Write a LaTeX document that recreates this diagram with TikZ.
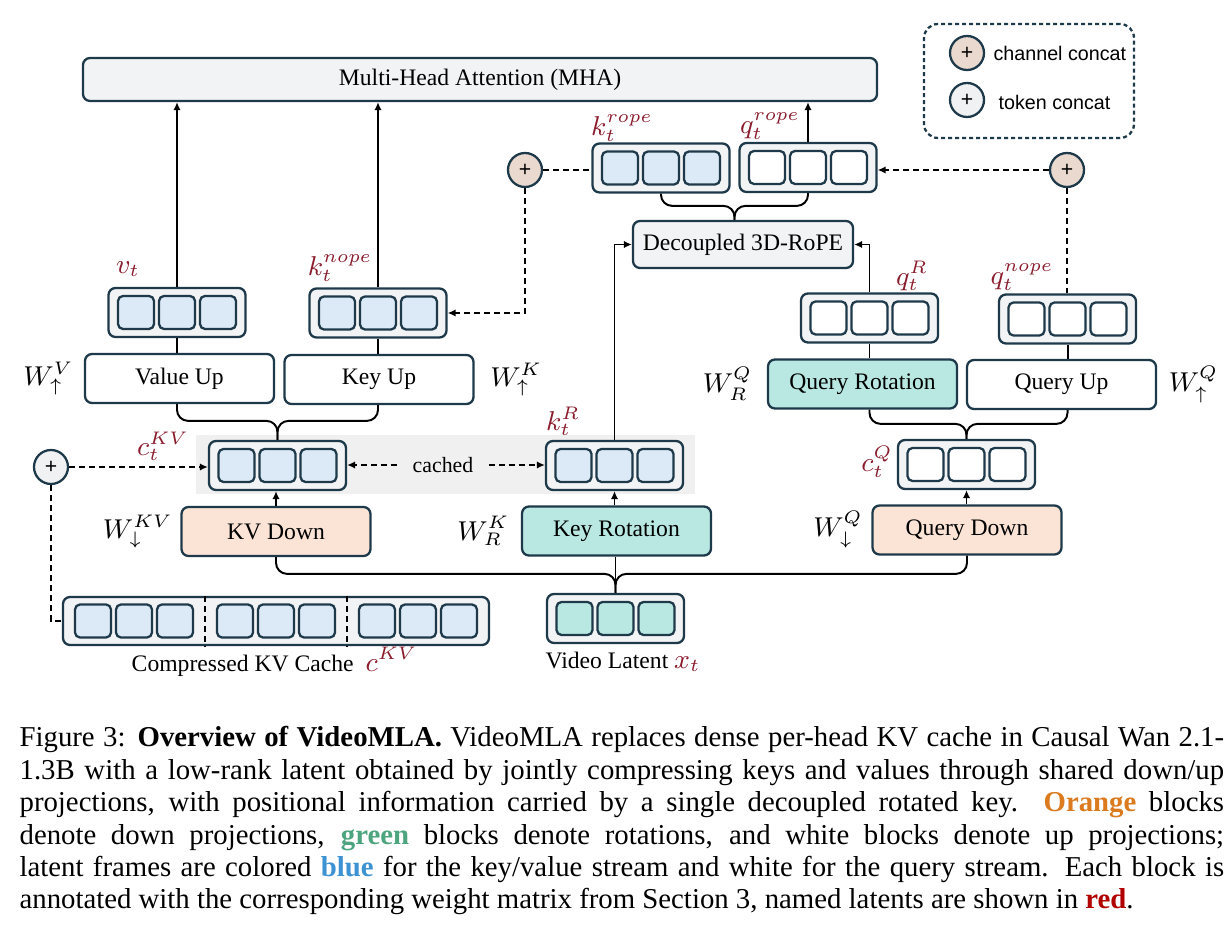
\documentclass[tikz,border=0pt]{standalone}
\usepackage{fontspec}
\setmainfont{Liberation Serif}
\newfontfamily\legfont{Liberation Sans}
\usetikzlibrary{arrows.meta,calc}

\newdimen\px \px=0.33pt
\definecolor{edge}{HTML}{1E3A4A}
\definecolor{trayfill}{HTML}{F2F3F4}
\definecolor{kvblue}{HTML}{DCE9F6}
\definecolor{rotteal}{HTML}{B8E8E1}
\definecolor{downpeach}{HTML}{FBE4D6}
\definecolor{chanbeige}{HTML}{E9D9CF}
\definecolor{tokgray}{HTML}{F0F1F3}
\definecolor{bandgray}{HTML}{F0F0F0}
\definecolor{lab}{HTML}{8A1C2C}
\definecolor{capor}{HTML}{DB7A1F}
\definecolor{capgr}{HTML}{4CA57E}
\definecolor{capbl}{HTML}{3C92D2}
\definecolor{capred}{HTML}{B00000}

\newcommand{\boxfont}{\fontsize{7.8}{9}\selectfont}
\newcommand{\labfont}{\fontsize{9}{10}\selectfont}

\tikzset{
  tray/.style={draw=edge, line width=0.75pt, fill=trayfill, rounded corners=7\px, minimum width=137\px, minimum height=49\px, inner sep=0pt},
  cell/.style={draw=edge, line width=0.75pt, rounded corners=5\px, minimum width=36\px, minimum height=33\px, inner sep=0pt},
  blk/.style={draw=edge, line width=0.75pt, rounded corners=7\px, minimum width=189\px, minimum height=49\px, inner sep=0pt, font=\boxfont},
  lab/.style={text=lab, font=\labfont, inner sep=0pt},
  wlab/.style={font=\fontsize{8.6}{10}\selectfont, inner sep=0pt},
  cat/.style={circle, draw=edge, line width=0.75pt, minimum size=34\px, inner sep=0pt, font=\legfont\fontsize{7}{8}\selectfont},
  link/.style={line width=0.65pt},
  arr/.style={link, -{Latex[length=2.6pt,width=2.4pt]}},
  dlink/.style={link, dash pattern=on 6\px off 4\px},
  darr/.style={dlink, -{Latex[length=2.6pt,width=2.4pt]}},
  brace/.style={link, rounded corners=11\px}
}

% tray of three latent cells: name, centre, cell colour
\newcommand{\tray}[3]{%
  \node[tray] (#1) at (#2) {};
  \foreach \i [count=\k] in {-41,0,41}
    \node[cell, fill=#3] (#1-\k) at ($(#1)+(\i,0)$) {};
}
% one arm of a brace: source, tip, depth
\newcommand{\brc}[3]{\draw[brace] (#1) |- ($(#2)+(0,-#3)$) -- (#2);}

\begin{document}
\begin{tikzpicture}[x=1\px, y=-1\px]
  \useasboundingbox (0,0) rectangle (1226,940);

  % cached region
  \node[fill=bandgray, minimum width=499\px, minimum height=59\px, inner sep=0pt] (band) at (445.5,464.5) {};

  % attention and legend
  \node[blk, fill=trayfill, minimum width=794\px, minimum height=43\px] (mha) at (480,79.5) {Multi-Head Attention (MHA)};
  \node[draw=edge, line width=0.75pt, dash pattern=on 4\px off 3\px, rounded corners=14\px, minimum width=210\px, minimum height=114\px] (legend) at (1029,81) {};
  \node[cat, fill=chanbeige] (legch) at (967,53) {+};
  \node[cat, fill=tokgray] (legtok) at (967,100) {+};
  \node[anchor=west, inner sep=0pt, font=\legfont\fontsize{6.5}{7}\selectfont] (legchtxt) at (993,53) {channel concat};
  \node[anchor=west, inner sep=0pt, font=\legfont\fontsize{6.5}{7}\selectfont] (legtoktxt) at (998,102) {token concat};

  % rope stage
  \tray{krope}{661,168}{kvblue}
  \tray{qrope}{808,167.5}{white}
  \node[cat, fill=chanbeige] (chl) at (525,170) {+};
  \node[cat, fill=chanbeige] (chr) at (1067,170) {+};
  \node[blk, fill=trayfill, minimum width=220\px, minimum height=47\px] (rope) at (743,244.5) {Decoupled 3D-RoPE};
  \node[lab] (krope-lab) at (622,128) {$k_t^{rope}$};
  \node[lab] (qrope-lab) at (770,126) {$q_t^{rope}$};

  % up projections
  \tray{vt}{177,312.5}{kvblue}
  \tray{knope}{378,313}{kvblue}
  \tray{qr}{869.5,318}{white}
  \tray{qnope}{1067.5,319}{white}
  \node[lab] (vt-lab) at (128,269) {$v_t$};
  \node[lab] (knope-lab) at (340,268) {$k_t^{nope}$};
  \node[lab] (qr-lab) at (912,276) {$q_t^{R}$};
  \node[lab] (qnope-lab) at (1022,277) {$q_t^{nope}$};
  \node[blk, fill=white] (vup) at (179.5,378.5) {Value Up};
  \node[blk, fill=white] (kup) at (379,379.5) {Key Up};
  \node[blk, fill=rotteal] (qrot) at (862.5,384) {Query Rotation};
  \node[blk, fill=white] (qup) at (1061.5,384.5) {Query Up};
  \node[wlab, anchor=east] (vup-w) at ($(vup.west)+(-10,0)$) {$W_{\uparrow}^{V}$};
  \node[wlab, anchor=west] (kup-w) at ($(kup.east)+(15,0)$) {$W_{\uparrow}^{K}$};
  \node[wlab, anchor=east] (qrot-w) at ($(qrot.west)+(-14,0)$) {$W_{R}^{Q}$};
  \node[wlab, anchor=west] (qup-w) at ($(qup.east)+(11,0)$) {$W_{\uparrow}^{Q}$};

  % latents
  \tray{ckv}{277.5,465.5}{kvblue}
  \tray{kr}{614.5,465.5}{kvblue}
  \tray{cq}{966.5,464.5}{white}
  \node[font=\fontsize{7.2}{8}\selectfont, inner xsep=15\px, inner ysep=0pt] (cachedtxt) at (443,465) {cached};
  \node[cat, fill=tokgray] (tok) at (51,467) {+};
  \node[lab] (ckv-lab) at (163,446) {$c_t^{KV}$};
  \node[lab] (kr-lab) at (563,421) {$k_t^{R}$};
  \node[lab] (cq-lab) at (877,462) {$c_t^{Q}$};

  % down projections
  \node[blk, fill=downpeach] (kvdown) at (276,531.5) {KV Down};
  \node[blk, fill=rotteal] (krot) at (616.5,531) {Key Rotation};
  \node[blk, fill=downpeach] (qdown) at (967,530) {Query Down};
  \node[wlab, anchor=east] (kvdown-w) at ($(kvdown.west)+(-7,0)$) {$W_{\downarrow}^{KV}$};
  \node[wlab, anchor=east] (krot-w) at ($(krot.west)+(-11,0)$) {$W_{R}^{K}$};
  \node[wlab, anchor=east] (qdown-w) at ($(qdown.west)+(-8,0)$) {$W_{\downarrow}^{Q}$};

  % inputs
  \tray{vlat}{615.5,618.5}{rotteal}
  \node[tray, minimum width=426\px, minimum height=48\px] (cache) at (276,621) {};
  \foreach \i [count=\k] in {-183,-142,-101,-41,0,41,101,142,183}
    \node[cell, fill=kvblue] (cache-\k) at ($(cache)+(\i,0)$) {};
  \foreach \s in {-71,71}
    \draw[dlink] ($(cache.north)+(\s,0)$) -- ($(cache.south)+(\s,0)$);
  \node[font=\boxfont] (vlat-txt) at (623,662) {Video Latent \textcolor{lab}{\labfont$x_t$}};
  \node[font=\boxfont] (cache-txt) at (274.5,662) {Compressed KV Cache\hspace{4pt}\textcolor{lab}{\labfont$c^{KV}$}};

  % solid connectors
  \draw[arr] (vt.north) -- (vt.north |- mha.south);
  \draw[arr] (knope.north) -- (knope.north |- mha.south);
  \draw[arr] (qrope.north) -- (qrope.north |- mha.south);
  \draw[link] (vt.south) -- (vt.south |- vup.north);
  \draw[link] (knope.south) -- (knope.south |- kup.north);
  \draw[link] (qr.south) -- (qr.south |- qrot.north);
  \draw[link] (qnope.south) -- (qnope.south |- qup.north);
  \draw[arr] (kr.north) |- (rope.west);
  \draw[arr] (qr.north) |- (rope.east);
  \draw[arr] (kvdown.north) -- (kvdown.north |- ckv.south);
  \draw[arr] (kr.south |- krot.north) -- (kr.south);
  \draw[arr] (cq.south |- qdown.north) -- (cq.south);
  \draw[link] (krot.south -| vlat.north) -- (vlat.north);

  % braces
  \coordinate (ropetip) at ($(krope.south)!.5!(qrope.south)$);
  \coordinate (ropetip) at (ropetip |- rope.north);
  \brc{krope.south}{ropetip}{14}
  \brc{qrope.south}{ropetip}{14}
  \brc{vt.south |- vup.south}{ckv.north}{19}
  \brc{knope.south |- kup.south}{ckv.north}{19}
  \brc{qr.south |- qrot.south}{cq.north}{15}
  \brc{qnope.south |- qup.south}{cq.north}{15}
  \brc{kvdown.south}{vlat.north}{19}
  \brc{qdown.south}{vlat.north}{19}

  % dashed connectors
  \draw[dlink] (chl.east) -- (chl.east -| krope.west);
  \draw[darr] (chl.south) |- (knope.east);
  \draw[darr] (chr.west) -- (chr.west -| qrope.east);
  \draw[dlink] (chr.south) -- (chr.south |- qnope.north);
  \draw[darr] (tok.east) -- (tok.east -| ckv.west);
  \draw[dlink] (tok.south) |- (cache.west);
  \draw[darr] (cachedtxt.west) -- (cachedtxt.west -| ckv.east);
  \draw[darr] (cachedtxt.east) -- (cachedtxt.east -| kr.west);

  % caption
  \node[anchor=north west, inner sep=0pt, text width=397.5pt, align=justify, font=\fontsize{9.5}{10.7}\selectfont] (caption) at (19,726) {\hyphenpenalty=10000 Figure 3: \textbf{Overview of VideoMLA.} VideoMLA replaces dense per-head KV cache in Causal Wan 2.1-\linebreak 1.3B with a low-rank latent obtained by jointly compressing keys and values through shared down/up\linebreak projections, with positional information carried by a single decoupled rotated key. \textbf{\textcolor{capor}{Orange}} blocks\linebreak denote down projections, \textbf{\textcolor{capgr}{green}} blocks denote rotations, and white blocks denote up projections;\linebreak latent frames are colored \textbf{\textcolor{capbl}{blue}} for the key/value stream and white for the query stream. Each block is\linebreak annotated with the corresponding weight matrix from Section 3, named latents are shown in \textbf{\textcolor{capred}{red}}.};
\end{tikzpicture}
\end{document}
